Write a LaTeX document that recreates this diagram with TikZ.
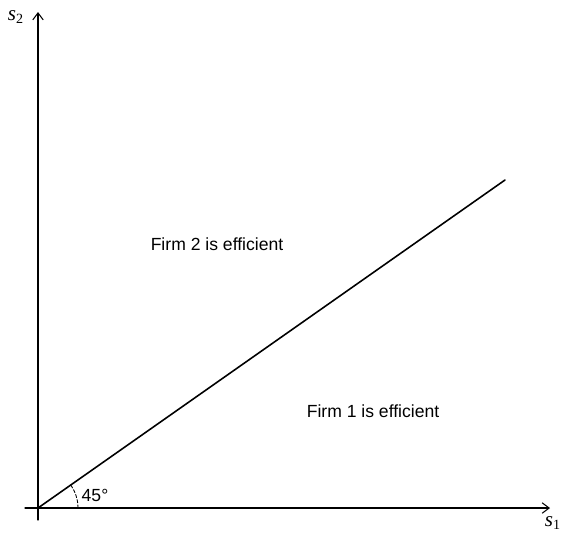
\documentclass[tikz,border=0pt]{standalone}
\usepackage{fontspec}
\setmainfont{Liberation Serif}
\newfontfamily\arialfont{Liberation Sans}
\usetikzlibrary{arrows.meta}

\begin{document}
\begin{tikzpicture}[>={Straight Barb[length=4pt,width=6pt]}, line cap=round]
\useasboundingbox (-0.76,-0.48) rectangle (10.56,10.16);
% 坐标轴
\coordinate (O) at (0,0);
\coordinate (xend) at (10.24,0);
\coordinate (yend) at (0,9.92);
\coordinate (lend) at (9.34,6.56);
\draw[line width=0.6pt, ->] (-0.26,0) -- (xend);
\draw[line width=0.6pt, ->] (0,-0.24) -- (yend);
\node (s1) at (10.3,-0.3) {\fontsize{12}{14}\selectfont\itshape s\textsubscript{\upshape 1}};
\node (s2) at (-0.44,9.82) {\fontsize{12}{14}\selectfont\itshape s\textsubscript{\upshape 2}};
% 分界线
\draw[line width=0.9pt] (O) -- (lend);
% 角度标记
\draw[line width=0.5pt, dash pattern=on 1.8pt off 1.2pt] (0.8,0) arc (0:35.1:0.8);
\node (ang) at (1.14,0.26) {\arialfont\fontsize{10}{12}\selectfont 45°};
% 区域说明
\node (firm2) at (3.58,5.28) {\arialfont\fontsize{10}{12}\selectfont Firm 2 is efficient};
\node (firm1) at (6.7,1.94) {\arialfont\fontsize{10}{12}\selectfont Firm 1 is efficient};
\end{tikzpicture}
\end{document}
